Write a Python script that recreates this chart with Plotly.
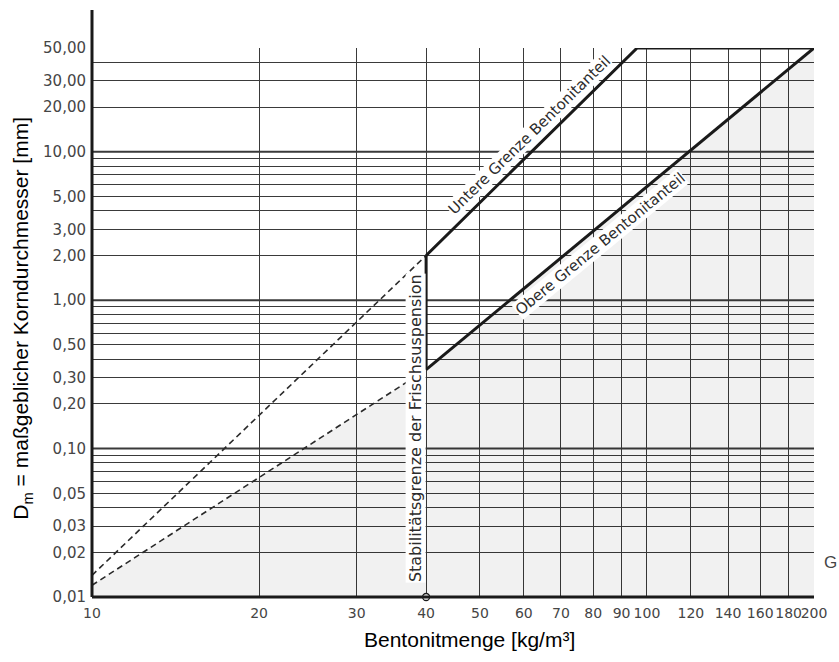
import math
import plotly.graph_objects as go

# ---- axis ticks and grid -------------------------------------------------
x_ticks = [10, 20, 30, 40, 50, 60, 70, 80, 90, 100, 120, 140, 160, 180, 200]
x_ticklabels = [str(v) for v in x_ticks]

y_ticks = [0.01, 0.02, 0.03, 0.05, 0.1, 0.2, 0.3, 0.5, 1, 2, 3, 5, 10, 20, 30, 50]
y_ticklabels = ["0,01", "0,02", "0,03", "0,05", "0,10", "0,20", "0,30", "0,50",
                "1,00", "2,00", "3,00", "5,00", "10,00", "20,00", "30,00", "50,00"]
y_minor_grid = [0.04, 0.06, 0.07, 0.08, 0.09, 0.4, 0.6, 0.7, 0.8, 0.9,
                4, 6, 7, 8, 9, 40]
y_decades = [0.1, 1, 10]

# ---- boundary curves (Bentonitmenge kg/m³ vs. Korndurchmesser mm) ---------
untere_x = [40, 96, 200]
untere_y = [2, 50, 50]
obere_x = [40, 200]
obere_y = [0.34, 50]
stab_x = [40, 40]
stab_y = [0.34, 2]
untere_ext_x = [10, 40]
untere_ext_y = [0.014, 2]
obere_ext_x = [10, 40]
obere_ext_y = [0.012, 0.34]

X_MIN, X_MAX = x_ticks[0], x_ticks[-1]
Y_MIN, Y_MAX = y_ticks[0], y_ticks[-1]

INK = "#1a1a1a"
GRID = "#3a3a3a"
LABEL = "#454545"
TICKFONT = "DejaVu Sans"
TITLEFONT = "Liberation Sans"

fig = go.Figure()

# light shaded zone below the upper bentonite limit
fill_x = obere_ext_x + obere_x[1:] + [X_MAX, X_MIN]
fill_y = obere_ext_y + obere_y[1:] + [Y_MIN, Y_MIN]
fig.add_trace(go.Scatter(x=fill_x, y=fill_y, mode="lines", fill="toself",
                         fillcolor="rgba(0,0,0,0.055)", line=dict(width=0),
                         hoverinfo="skip", showlegend=False))

# dashed extrapolations
for xs, ys in [(untere_ext_x, untere_ext_y), (obere_ext_x, obere_ext_y)]:
    fig.add_trace(go.Scatter(x=xs, y=ys, mode="lines",
                             line=dict(color="#2a2a2a", width=1.6, dash="6px,4px"),
                             showlegend=False, hoverinfo="skip"))

# solid limits
for xs, ys in [(untere_x, untere_y), (obere_x, obere_y), (stab_x, stab_y)]:
    fig.add_trace(go.Scatter(x=xs, y=ys, mode="lines",
                             line=dict(color=INK, width=3),
                             showlegend=False, hoverinfo="skip", cliponaxis=False))

# small open circle at the foot of the stability line
fig.add_trace(go.Scatter(x=[stab_x[0]], y=[Y_MIN], mode="markers",
                         marker=dict(symbol="circle", size=7, color="white",
                                     line=dict(color=INK, width=1.3)),
                         showlegend=False, hoverinfo="skip", cliponaxis=False))

# heavier decade lines
shapes = []
for v in y_decades:
    shapes.append(dict(type="line", xref="paper", x0=0, x1=1, yref="y", y0=v, y1=v,
                       line=dict(color=GRID, width=2), layer="below"))

# axis lines (left one runs above the top grid line)
shapes.append(dict(type="line", xref="paper", yref="paper", x0=0, x1=0, y0=0, y1=1.069,
                   line=dict(color=INK, width=3), layer="above"))
shapes.append(dict(type="line", xref="paper", yref="paper", x0=0, x1=1, y0=0, y1=0,
                   line=dict(color=INK, width=3), layer="above"))


def lmid(xs, ys):
    """Midpoint of a segment in log10 space (annotation coordinates on log axes)."""
    return ((math.log10(xs[0]) + math.log10(xs[-1])) / 2,
            (math.log10(ys[0]) + math.log10(ys[-1])) / 2)


def ang(xs, ys, px_x, px_y):
    dx = (math.log10(xs[-1]) - math.log10(xs[0])) * px_x
    dy = (math.log10(ys[-1]) - math.log10(ys[0])) * px_y
    return -math.degrees(math.atan2(dy, dx))


PLOT_W, PLOT_H = 728, 549
px_x = PLOT_W / (math.log10(X_MAX) - math.log10(X_MIN))
px_y = PLOT_H / (math.log10(Y_MAX) - math.log10(Y_MIN))

ux, uy = lmid(untere_x[:2], untere_y[:2])
ox, oy = lmid(obere_x, obere_y)

annotations = [
    dict(x=ux, y=uy, xref="x", yref="y", text="Untere Grenze Bentonitanteil",
         showarrow=False, textangle=ang(untere_x[:2], untere_y[:2], px_x, px_y),
         xanchor="center", yanchor="middle",
         xshift=-2, yshift=16.5, bgcolor="white", borderpad=0,
         font=dict(family=TICKFONT, size=15, color="#2c2c2c")),
    dict(x=ox, y=oy, xref="x", yref="y", text="Obere Grenze Bentonitanteil",
         showarrow=False, textangle=ang(obere_x, obere_y, px_x, px_y),
         xanchor="center", yanchor="middle",
         xshift=-20, yshift=-35, bgcolor="white", borderpad=0,
         font=dict(family=TICKFONT, size=15, color="#2c2c2c")),
    dict(x=math.log10(stab_x[0]), y=math.log10(Y_MIN), xref="x", yref="y",
         text="Stabilitätsgrenze der Frischsuspension", showarrow=False,
         textangle=-90, xanchor="center", yanchor="bottom", xshift=-11, yshift=14,
         bgcolor="white", borderpad=0,
         font=dict(family=TICKFONT, size=16, color="#2c2c2c")),
    dict(x=-0.0962, y=0.508, xref="paper", yref="paper",
         xanchor="center", yanchor="middle",
         text="D<sub>m</sub> = maßgeblicher Korndurchmesser [mm]", showarrow=False,
         textangle=-90, font=dict(family=TITLEFONT, size=21, color="black")),
    dict(x=0.523, y=-0.0783, xref="paper", yref="paper",
         xanchor="center", yanchor="middle",
         text="Bentonitmenge [kg/m³]", showarrow=False,
         font=dict(family=TITLEFONT, size=21, color="black")),
    dict(x=1.011, y=0.062, xref="paper", yref="paper", text="G", showarrow=False,
         xanchor="left", yanchor="middle",
         font=dict(family=TITLEFONT, size=17, color=LABEL)),
]

fig.update_layout(
    width=839, height=662,
    margin=dict(l=92, r=19, t=48, b=65),
    paper_bgcolor="white", plot_bgcolor="white",
    shapes=shapes, annotations=annotations,
    xaxis=dict(type="log", range=[math.log10(X_MIN), math.log10(X_MAX)],
               tickmode="array", tickvals=x_ticks, ticktext=x_ticklabels,
               tickangle=0, ticks="", showline=False, zeroline=False,
               showgrid=True, gridcolor=GRID, gridwidth=1.3,
               ticklabelstandoff=6,
               tickfont=dict(family=TICKFONT, size=14, color=LABEL)),
    yaxis=dict(type="log", range=[math.log10(Y_MIN), math.log10(Y_MAX)],
               tickmode="array", tickvals=y_ticks, ticktext=y_ticklabels,
               ticks="", showline=False, zeroline=False,
               showgrid=True, gridcolor=GRID, gridwidth=1.1,
               minor=dict(tickmode="array", tickvals=y_minor_grid, showgrid=True,
                          gridcolor=GRID, gridwidth=1.1, ticks=""),
               ticklabelstandoff=5,
               tickfont=dict(family=TICKFONT, size=15, color=LABEL)),
)

fig.write_html("out.html")
